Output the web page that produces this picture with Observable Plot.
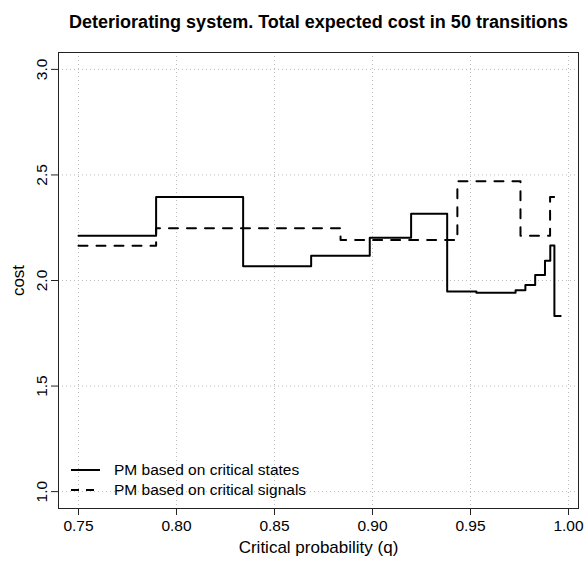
<!DOCTYPE html>
<html>
<head>
<meta charset="utf-8">
<script src="https://cdn.jsdelivr.net/npm/d3@7"></script>
<script src="https://cdn.jsdelivr.net/npm/@observablehq/plot@0.6"></script>
<style>
  html, body { margin: 0; padding: 0; background: #fff; }
  #wrap { position: relative; width: 585px; height: 564px; }
  #legend { position: absolute; left: 66px; top: 460px; font-family: "Liberation Sans", Arial, sans-serif; font-size: 15.5px; color: #000; }
  #legend .row { display: flex; align-items: center; height: 20px; }
  #legend svg { margin-right: 12px; }
</style>
</head>
<body>
<div id="wrap"></div>
<script>
const title = "Deteriorating system. Total expected cost in 50 transitions";
const xLabel = "Critical probability (q)";
const yLabel = "cost";
const xTicks = [0.75, 0.80, 0.85, 0.90, 0.95, 1.00];
const yTicks = [1.0, 1.5, 2.0, 2.5, 3.0];

// PM based on critical states (solid, step function)
const statesQ    = [0.75,  0.7896, 0.834, 0.8687, 0.8986, 0.9197, 0.9381, 0.953, 0.973, 0.978, 0.983, 0.988, 0.9907, 0.9928, 0.996];
const statesCost = [2.212, 2.395,  2.067, 2.117,  2.202,  2.316,  1.948,  1.942, 1.954, 1.979, 2.026, 2.093, 2.166,  1.832,  1.832];

// PM based on critical signals (dashed, step function)
const signalsQ    = [0.75,  0.7896, 0.8837, 0.9433, 0.9755, 0.9906, 0.9927];
const signalsCost = [2.165, 2.248,  2.192,  2.470,  2.212,  2.396,  2.396];

const legendLabels = ["PM based on critical states", "PM based on critical signals"];

const states = statesQ.map((q, i) => ({q, cost: statesCost[i]}));
const signals = signalsQ.map((q, i) => ({q, cost: signalsCost[i]}));

const chart = Plot.plot({
  width: 585,
  height: 564,
  marginLeft: 58,
  marginRight: 7,
  marginTop: 52,
  marginBottom: 56,
  x: {domain: [0.7398, 1.0051]},
  y: {domain: [0.92, 3.08]},
  style: {fontFamily: "'Liberation Sans', Arial, sans-serif", fontSize: "15.5px", color: "#000", background: "#fff"},
  marks: [
    Plot.gridX(xTicks, {stroke: "#bbb", strokeOpacity: 1, strokeDasharray: "1,3"}),
    Plot.gridY(yTicks, {stroke: "#bbb", strokeOpacity: 1, strokeDasharray: "1,3"}),
    Plot.line(signals, {x: "q", y: "cost", curve: "step-after", stroke: "#000", strokeWidth: 2, strokeDasharray: "9,9"}),
    Plot.line(states, {x: "q", y: "cost", curve: "step-after", stroke: "#000", strokeWidth: 2}),
    Plot.frame({stroke: "#222"}),
    Plot.axisX(xTicks, {tickSize: 7, tickPadding: 4, tickFormat: d => d.toFixed(2), label: null, stroke: "#222"}),
    Plot.axisY(yTicks, {tickSize: 7, tickFormat: () => "", label: null, stroke: "#222"}),
    Plot.text(yTicks, {y: d => d, text: d => d.toFixed(1), frameAnchor: "left", dx: -16, rotate: -90, textAnchor: "middle"}),
    Plot.text([yLabel], {frameAnchor: "left", dx: -40, rotate: -90, textAnchor: "middle", fontSize: 17}),
    Plot.text([xLabel], {frameAnchor: "bottom", dy: 44, textAnchor: "middle", fontSize: 17}),
    Plot.text([title], {frameAnchor: "top", dy: -37, textAnchor: "middle", fontWeight: "bold", fontSize: 18})
  ]
});

const wrap = document.getElementById("wrap");
wrap.appendChild(chart);

const legend = document.createElement("div");
legend.id = "legend";
legend.innerHTML = legendLabels.map((lab, i) => `
  <div class="row">
    <svg width="36" height="6"><line x1="5" x2="34" y1="3" y2="3" stroke="#000" stroke-width="2" ${i === 1 ? 'stroke-dasharray="8,7"' : ''}/></svg>
    <span>${lab}</span>
  </div>`).join("");
wrap.appendChild(legend);
</script>
</body>
</html>
